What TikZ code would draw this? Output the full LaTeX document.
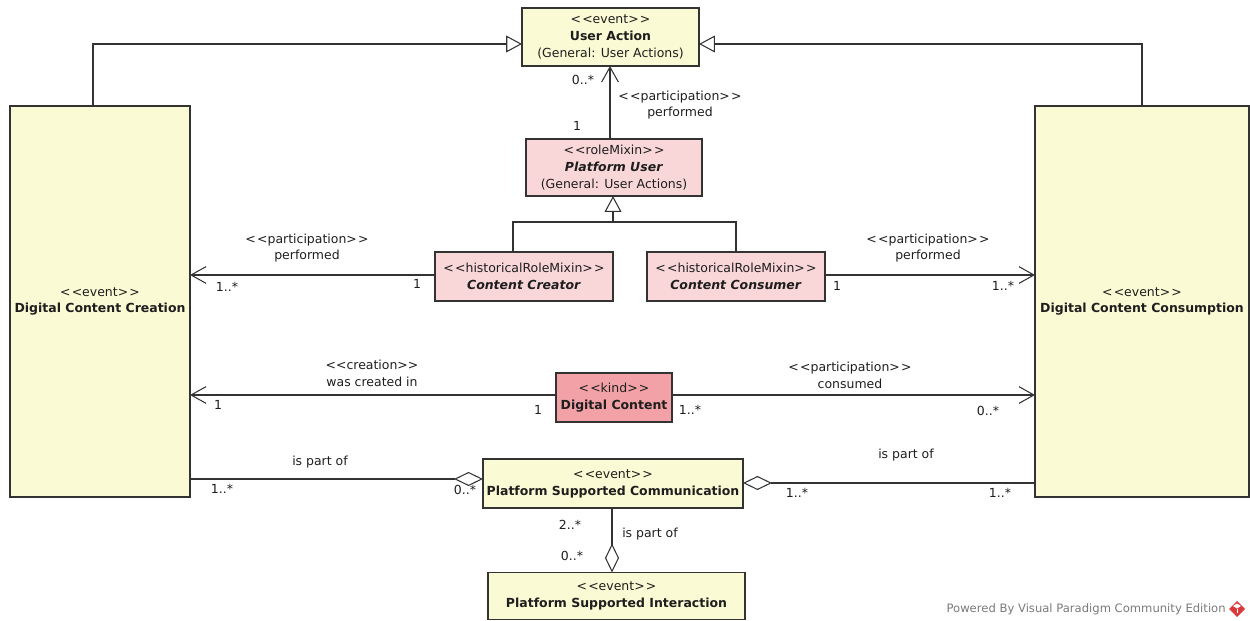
\documentclass[tikz,border=0pt]{standalone}
\usepackage{fontspec}
\newfontfamily\dv{DejaVu Sans}
\usetikzlibrary{arrows.meta,calc}
\definecolor{evfill}{HTML}{FAFAD4}
\definecolor{rolefill}{HTML}{F9D6D7}
\definecolor{kindfill}{HTML}{F2A2A6}
\definecolor{edge}{HTML}{333333}
\definecolor{ink}{HTML}{1E1E1E}
\definecolor{wm}{HTML}{7A7A7A}
\definecolor{vpred}{HTML}{D93A3C}
\newcommand\stereo[1]{<\kern.1em<#1>\kern.1em>}

\begin{document}
\begin{tikzpicture}[x=0.02cm,y=-0.02cm,
  font=\dv\fontsize{7.1}{9.6}\selectfont, text=ink,
  cls/.style={draw=edge, line width=0.75pt, inner sep=0pt, outer sep=0pt, align=center},
  ev/.style={cls, fill=evfill},
  role/.style={cls, fill=rolefill},
  kindbox/.style={cls, fill=kindfill},
  lbl/.style={inner sep=0pt, align=center},
  conn/.style={draw=edge, line width=0.6pt},
  gen/.style={conn, -{Triangle[open, length=9pt, width=9.5pt, fill=white]}},
  nav/.style={conn, -{Straight Barb[length=8.5pt, width=9.5pt]}},
  agg/.style={conn, -{Diamond[open, length=16.5pt, width=8pt, fill=white]}}]

\useasboundingbox (0,0) rectangle (1250,621);

% classes
\node[ev, minimum width=3.54cm, minimum height=1.16cm] (ua) at (610.5,37)
  {\stereo{event}\\\textbf{User Action}\\(General: User Actions)};
\node[ev, minimum width=3.6cm, minimum height=7.82cm] (dcc) at (100,301.5)
  {\stereo{event}\\\textbf{Digital Content Creation}};
\node[ev, minimum width=4.28cm, minimum height=7.82cm] (dccs) at (1142,301.5)
  {\stereo{event}\\\textbf{Digital Content Consumption}};
\node[role, minimum width=3.52cm, minimum height=1.14cm] (pu) at (614,167.5)
  {\stereo{roleMixin}\\\textbf{\itshape Platform User}\\(General: User Actions)};
\node[role, minimum width=3.56cm, minimum height=0.98cm] (cc) at (524,276.5)
  {\stereo{historicalRoleMixin}\\\textbf{\itshape Content Creator}};
\node[role, minimum width=3.56cm, minimum height=0.98cm] (ccs) at (736,276.5)
  {\stereo{historicalRoleMixin}\\\textbf{\itshape Content Consumer}};
\node[kindbox, minimum width=2.32cm, minimum height=0.98cm] (dc) at (614,397.5)
  {\stereo{kind}\\\textbf{Digital Content}};
\node[ev, minimum width=5.2cm, minimum height=0.98cm] (psc) at (613,483.5)
  {\stereo{event}\\\textbf{Platform Supported Communication}};
\node[ev, minimum width=5.14cm, minimum height=0.94cm] (psi) at (616.5,596)
  {\stereo{event}\\\textbf{Platform Supported Interaction}};

% routing points
\coordinate (gl) at (93,44);
\coordinate (gr) at (1142,44);
\coordinate (pux) at (610,0);
\coordinate (tj) at (613,222);
\coordinate (ccx) at (513,0);
\coordinate (ccsx) at (736,0);
\coordinate (y1) at (0,275);
\coordinate (y2) at (0,395);
\coordinate (y3) at (0,479);
\coordinate (y4) at (0,483);
\coordinate (psx) at (612,0);

% generalizations
\draw[gen] (dcc.north -| gl) |- (ua.west |- gl);
\draw[gen] (dccs.north -| gr) |- (ua.east |- gr);
\draw[gen] (cc.north -| ccx) |- (tj) -- (pu.south -| tj);
\draw[conn] (ccs.north -| ccsx) |- (tj);

% associations
\draw[nav] (pu.north -| pux) -- (ua.south -| pux);
\node[lbl] (m1) at (583,80) {0..*};
\node[lbl] (m2) at (577,126) {1};
\node[lbl] (a1) at (680,105) {\stereo{participation}\\performed};

\draw[nav] (cc.west |- y1) -- (dcc.east |- y1);
\node[lbl] (a2) at (307,248) {\stereo{participation}\\performed};
\node[lbl] (m3) at (227,287) {1..*};
\node[lbl] (m4) at (417,284) {1};

\draw[nav] (ccs.east |- y1) -- (dccs.west |- y1);
\node[lbl] (a3) at (928,248) {\stereo{participation}\\performed};
\node[lbl] (m5) at (837,286) {1};
\node[lbl] (m6) at (1003,286) {1..*};

\draw[nav] (dc.west |- y2) -- (dcc.east |- y2);
\node[lbl] (a4) at (372,373) {<<creation>>\\was created in};
\node[lbl] (m7) at (218,405) {1};
\node[lbl] (m8) at (538,410) {1};

\draw[nav] (dc.east |- y2) -- (dccs.west |- y2);
\node[lbl] (a5) at (850,375) {\stereo{participation}\\consumed};
\node[lbl] (m9) at (690,410) {1..*};
\node[lbl] (m10) at (988,411) {0..*};

% aggregations
\draw[agg] (dcc.east |- y3) -- (psc.west |- y3);
\node[lbl] (a6) at (320,462) {is part of};
\node[lbl] (m11) at (222,489) {1..*};
\node[lbl] (m12) at (465,490) {0..*};

\draw[agg] (dccs.west |- y4) -- (psc.east |- y4);
\node[lbl] (a7) at (906,455) {is part of};
\node[lbl] (m13) at (797,493) {1..*};
\node[lbl] (m14) at (1000,493) {1..*};

\draw[agg] (psc.south -| psx) -- (psi.north -| psx);
\node[lbl] (m15) at (570,525) {2..*};
\node[lbl] (a8) at (650,534) {is part of};
\node[lbl] (m16) at (572,556) {0..*};

% footer
\node[lbl, text=wm, font=\dv\fontsize{6.6}{8}\selectfont, anchor=east] (wmark) at (1226,609)
  {Powered By Visual Paradigm Community Edition};
\fill[vpred] (1237,601) -- (1245,609) -- (1237,617) -- (1229,609) -- cycle;
\fill[white] (1233,606) -- (1237,603.5) -- (1241,606) -- (1237,608.5) -- cycle;
\draw[white, line width=0.5pt] (1237,608.5) -- (1237,613);
\end{tikzpicture}
\end{document}
